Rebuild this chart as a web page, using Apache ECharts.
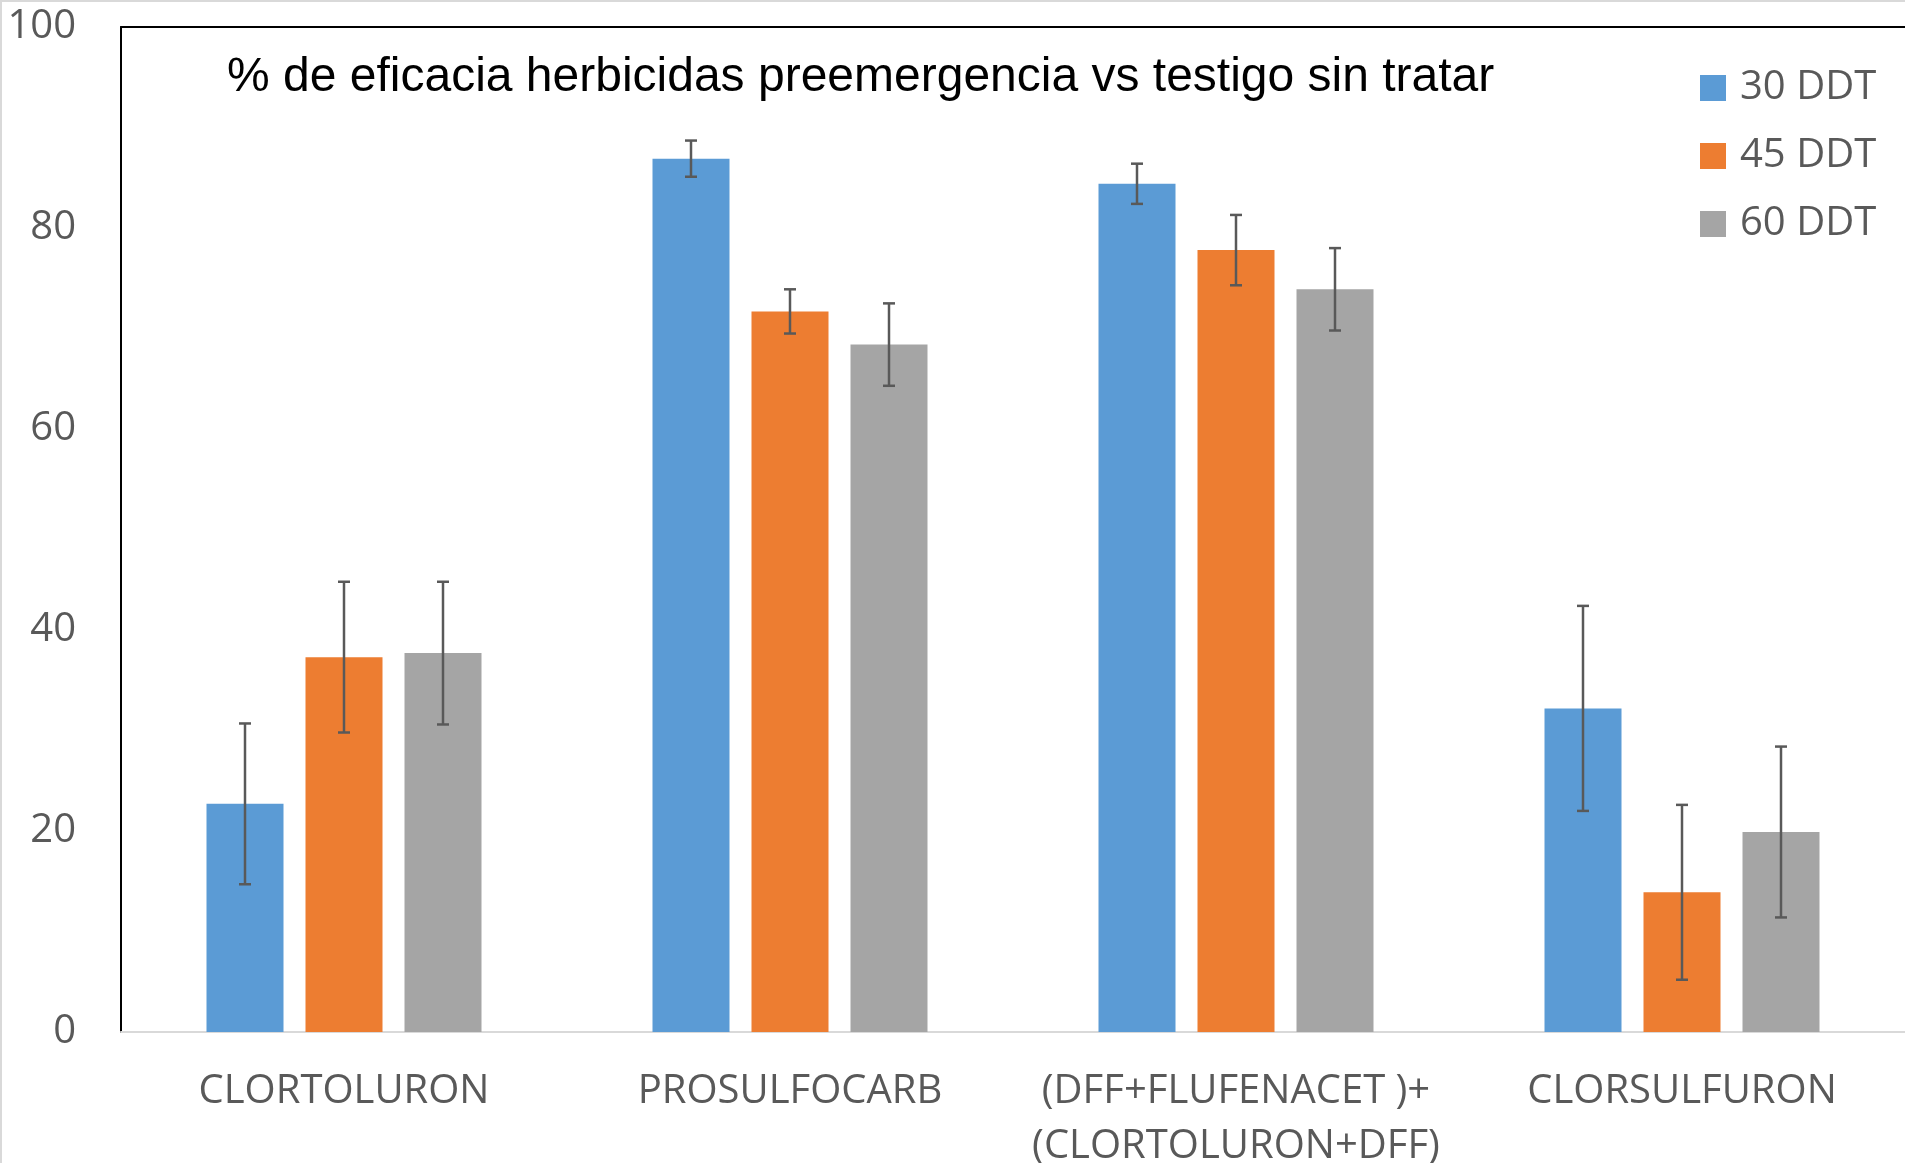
<!DOCTYPE html>
<html>
<head>
<meta charset="utf-8">
<script src="https://cdn.jsdelivr.net/npm/echarts@6/dist/echarts.min.js"></script>
<style>
  html, body { margin: 0; padding: 0; background: #fff; }
  #chart { width: 1905px; height: 1163px; }
</style>
</head>
<body>
<div id="chart"></div>
<script>
var categories = ['CLORTOLURON', 'PROSULFOCARB', '(DFF+FLUFENACET )+\n(CLORTOLURON+DFF)', 'CLORSULFURON'];
var seriesNames = ['30 DDT', '45 DDT', '60 DDT'];
var d30 = [22.7, 86.9, 84.4, 32.2];
var d45 = [37.3, 71.7, 77.8, 13.9];
var d60 = [37.7, 68.4, 73.9, 19.9];
var err30 = [8.0, 1.8, 2.0, 10.2];
var err45 = [7.5, 2.2, 3.5, 8.7];
var err60 = [7.1, 4.1, 4.1, 8.5];
var yTicks = [0, 20, 40, 60, 80, 100];

var colors = ['#5B9BD5', '#ED7D31', '#A5A5A5'];
var barW = 77, barGapPx = 22;

var chart = echarts.init(document.getElementById('chart'));

function errData(vals, errs) {
  return vals.map(function (v, i) { return [i, v - errs[i], v + errs[i]]; });
}

function errSeries(idx, vals, errs) {
  return {
    type: 'custom',
    name: 'err' + idx,
    z: 5,
    silent: true,
    data: errData(vals, errs),
    encode: { x: 0, y: [1, 2] },
    renderItem: function (params, api) {
      var off = (idx - 1) * (barW + barGapPx);
      var lo = api.coord([api.value(0), api.value(1)]);
      var hi = api.coord([api.value(0), api.value(2)]);
      var x = lo[0] + off, cap = 6;
      var st = { stroke: '#595959', lineWidth: 2.5 };
      return {
        type: 'group',
        children: [
          { type: 'line', shape: { x1: x, y1: lo[1], x2: x, y2: hi[1] }, style: st },
          { type: 'line', shape: { x1: x - cap, y1: lo[1], x2: x + cap, y2: lo[1] }, style: st },
          { type: 'line', shape: { x1: x - cap, y1: hi[1], x2: x + cap, y2: hi[1] }, style: st }
        ]
      };
    }
  };
}

var labelFont = 'Open Sans';

chart.setOption({
  animation: false,
  color: colors,
  title: {
    text: '% de eficacia herbicidas preemergencia vs testigo sin tratar',
    left: 222,
    top: 49,
    textStyle: { fontFamily: 'Liberation Sans', fontSize: 48, fontWeight: 'normal', color: '#000' }
  },
  legend: {
    data: seriesNames,
    orient: 'vertical',
    left: 1695,
    top: 63,
    icon: 'rect',
    itemWidth: 26,
    itemHeight: 26,
    itemGap: 28,
    textStyle: { fontFamily: labelFont, fontSize: 40, color: '#595959', lineHeight: 40, padding: [0, 0, 0, 9] }
  },
  grid: { left: 121, right: 0, top: 27, bottom: 131, containLabel: false, outerBoundsMode: 'none' },
  xAxis: [{
    type: 'category',
    data: categories,
    axisLine: { lineStyle: { color: '#d9d9d9', width: 2 } },
    axisTick: { show: false },
    axisLabel: { interval: 0, margin: 32, fontFamily: labelFont, fontSize: 40, color: '#595959', lineHeight: 55 }
  }, {
    type: 'category',
    data: categories,
    position: 'top',
    axisLine: { lineStyle: { color: '#000', width: 2 } },
    axisTick: { show: false },
    axisLabel: { show: false }
  }],
  yAxis: {
    type: 'value',
    min: 0,
    max: 100,
    interval: 20,
    axisLine: { show: true, lineStyle: { color: '#000', width: 2 } },
    axisTick: { show: false },
    splitLine: { show: false },
    axisLabel: {
      margin: 45, fontFamily: labelFont, fontSize: 40, color: '#595959',
      formatter: function (v) { return yTicks.indexOf(v) >= 0 ? String(v) : ''; }
    }
  },
  graphic: [
    { type: 'rect', shape: { x: 0, y: 0, width: 2, height: 1163 }, style: { fill: '#d9d9d9' } },
    { type: 'rect', shape: { x: 0, y: 0, width: 1905, height: 2 }, style: { fill: '#d9d9d9' } }
  ],
  series: [
    { type: 'bar', name: seriesNames[0], data: d30, barWidth: barW, barGap: (barGapPx / barW * 100) + '%' },
    { type: 'bar', name: seriesNames[1], data: d45, barWidth: barW, barGap: (barGapPx / barW * 100) + '%' },
    { type: 'bar', name: seriesNames[2], data: d60, barWidth: barW, barGap: (barGapPx / barW * 100) + '%' },
    errSeries(0, d30, err30),
    errSeries(1, d45, err45),
    errSeries(2, d60, err60)
  ]
});
</script>
</body>
</html>
